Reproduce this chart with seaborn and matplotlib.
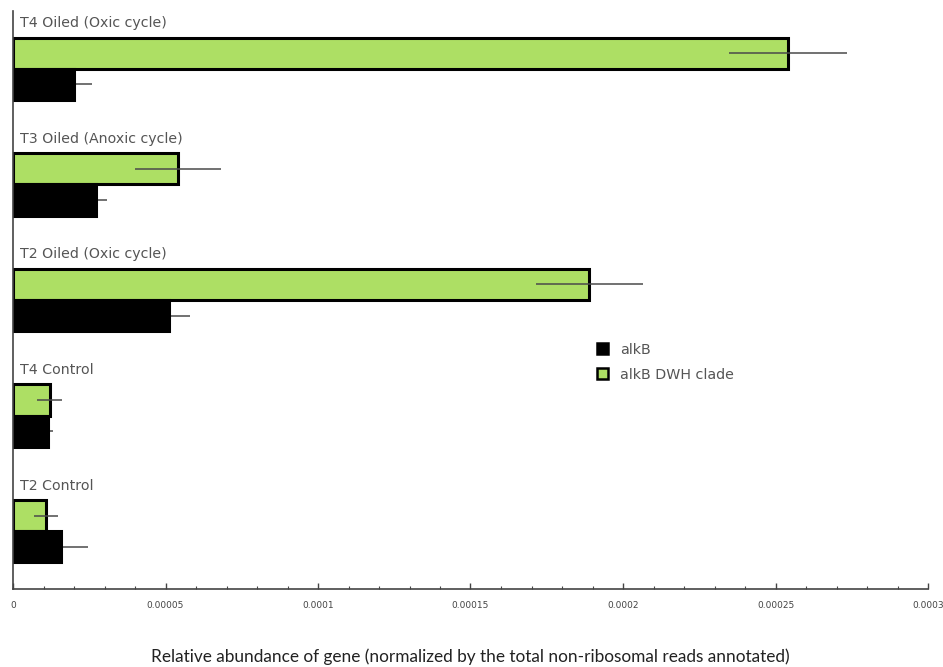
import matplotlib
matplotlib.use("Agg")
import matplotlib.pyplot as plt
from matplotlib.patches import Patch
from matplotlib.ticker import MultipleLocator
import pandas as pd
import seaborn as sns

# Sample groups, top to bottom
groups = ["T4 Oiled (Oxic cycle)", "T3 Oiled (Anoxic cycle)", "T2 Oiled (Oxic cycle)",
          "T4 Control", "T2 Control"]

# Relative abundance of each gene and its error
alkb = [2.00e-5, 2.72e-5, 5.11e-5, 1.15e-5, 1.57e-5]
alkb_err = [5.9e-6, 3.6e-6, 6.9e-6, 1.6e-6, 8.9e-6]
dwh = [2.541e-4, 5.41e-5, 1.889e-4, 1.21e-5, 1.08e-5]
dwh_err = [1.93e-5, 1.41e-5, 1.75e-5, 4.1e-6, 3.9e-6]

gene_names = ["alkB", "alkB DWH clade"]
tick_values = [0, 0.00005, 0.0001, 0.00015, 0.0002, 0.00025, 0.0003]
tick_labels = ["0", "0.00005", "0.0001", "0.00015", "0.0002", "0.00025", "0.0003"]

colors = {"alkB": "#000000", "alkB DWH clade": "#addf64"}

df = pd.DataFrame({
    "group": groups * 2,
    "gene": ["alkB"] * len(groups) + ["alkB DWH clade"] * len(groups),
    "value": alkb + dwh,
})
errors = {"alkB": alkb_err, "alkB DWH clade": dwh_err}

sns.set_theme(style="white")
plt.rcParams["font.family"] = ["DejaVu Sans"]

fig = plt.figure(figsize=(9.43, 6.67), dpi=100)
ax = fig.add_axes([13 / 943, 1 - 589 / 667, 915 / 943, 578 / 667])

hue_order = ["alkB DWH clade", "alkB"]
sns.barplot(data=df, x="value", y="group", hue="gene", hue_order=hue_order,
            order=groups, palette=colors, saturation=1, orient="h", width=0.54,
            edgecolor="black", linewidth=2.2, legend=False, ax=ax, zorder=2)

# Symmetric error lines centred on each bar end (hidden behind the black bars)
for gene, container in zip(hue_order, ax.containers):
    z = 3 if gene == "alkB DWH clade" else 1
    for bar, err in zip(container, errors[gene]):
        yc = bar.get_y() + bar.get_height() / 2
        xv = bar.get_width()
        ax.plot([xv - err, xv + err], [yc, yc], color="#4a4a4a", lw=1.1,
                solid_capstyle="butt", zorder=z)

# Group labels sit above each pair of bars
for i, name in enumerate(groups):
    ax.text(2.3e-6, i - 0.395, name, fontsize=10.2, color="#555555",
            va="center", ha="left")

ax.set_xlim(0, 0.0003)
ax.set_ylim(4.5, -0.5)
ax.set_yticks([])
ax.set_ylabel("")
ax.set_xticks(tick_values)
ax.set_xticklabels(tick_labels)
ax.xaxis.set_minor_locator(MultipleLocator(0.00001))
ax.tick_params(axis="x", which="major", direction="in", length=4, width=1,
               color="#444444", labelsize=6.5, labelcolor="#444444", pad=9,
               bottom=True)
ax.tick_params(axis="x", which="minor", direction="in", length=2.5, width=0.8,
               color="#444444", bottom=True)

ax.set_xlabel("Relative abundance of gene (normalized by the total non-ribosomal reads annotated)",
              fontsize=12.4, color="#222222", labelpad=27, fontfamily="Lato")

for side in ["top", "right"]:
    ax.spines[side].set_visible(False)
for side in ["left", "bottom"]:
    ax.spines[side].set_color("#444444")
    ax.spines[side].set_linewidth(1.2)

handles = [Patch(facecolor=colors[g], edgecolor="black", linewidth=1.8) for g in gene_names]
leg = ax.legend(handles, gene_names, loc="upper left", bbox_to_anchor=(0.624, 0.448),
                frameon=False, handlelength=0.8, handleheight=0.8, handletextpad=0.8,
                labelspacing=0.75, fontsize=10.3)
for t in leg.get_texts():
    t.set_color("#555555")

fig.savefig("out.png", dpi=100, facecolor="white")
